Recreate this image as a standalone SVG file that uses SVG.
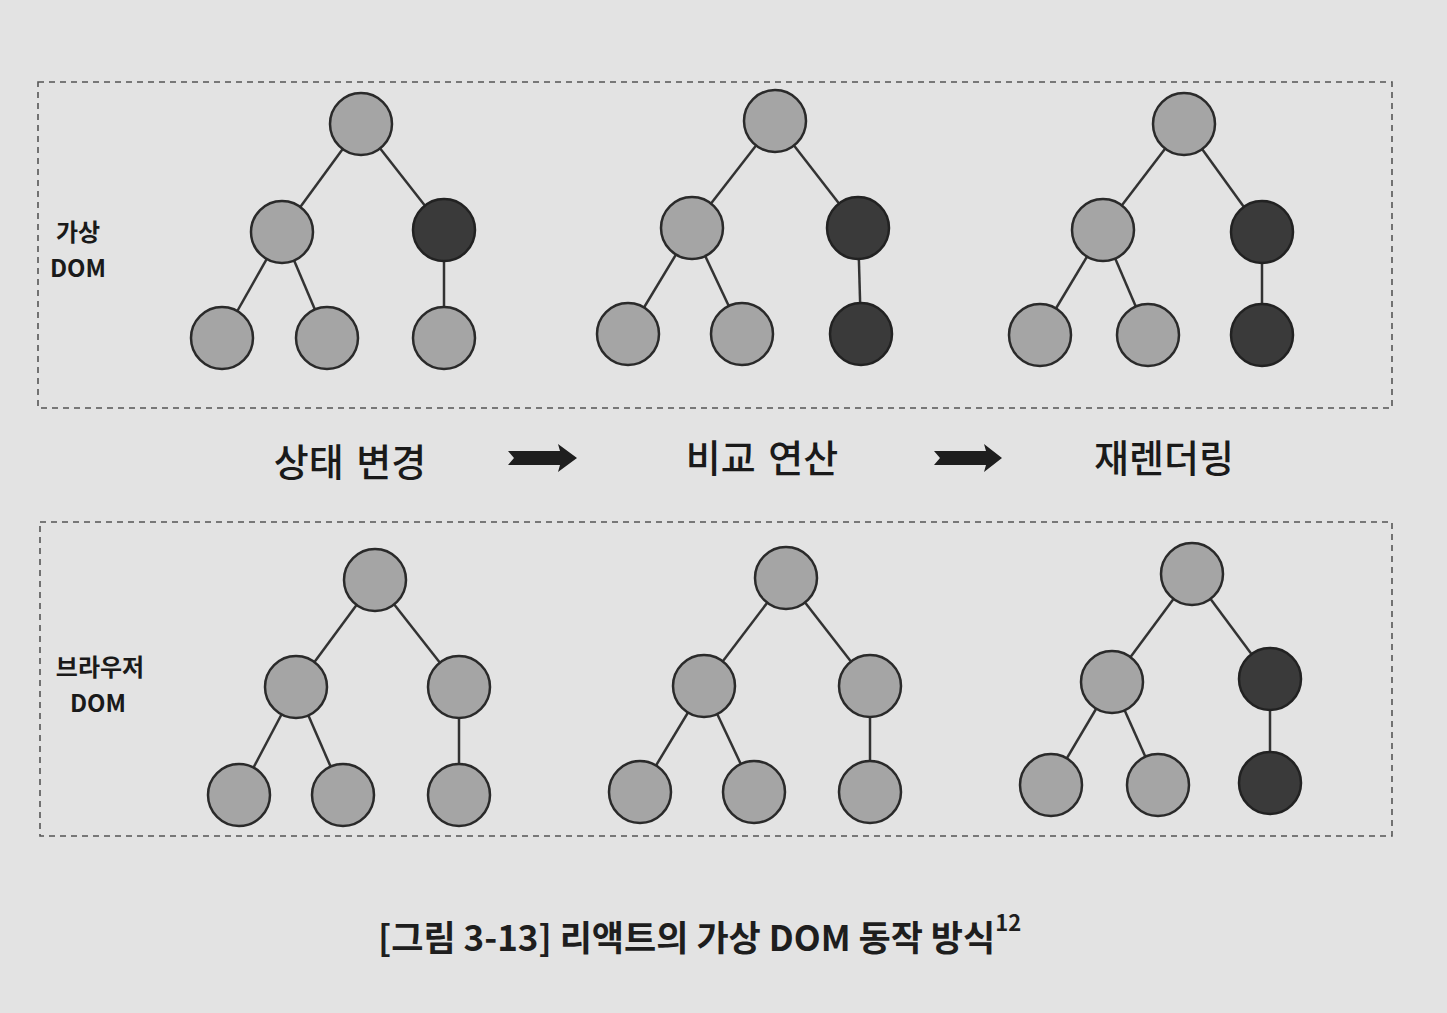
<svg xmlns="http://www.w3.org/2000/svg" width="1447" height="1013" viewBox="0 0 1447 1013">
<style>
.bg{fill:#e3e3e3}
.panel{fill:none;stroke:#555;stroke-width:1.6;stroke-dasharray:6 5}
.n{fill:#a5a5a5;stroke:#2a2a2a;stroke-width:2.5}
.d{fill:#3a3a3a;stroke:#222;stroke-width:2.5}
.e{stroke:#333;stroke-width:2.5}
.lbl{font-family:"Noto Sans CJK KR","Noto Sans",sans-serif;font-weight:700;fill:#1a1a1a;font-size:24px;text-anchor:middle}
.step{font-family:"Noto Sans CJK KR","Noto Sans",sans-serif;font-weight:500;fill:#1a1a1a;font-size:38px;text-anchor:middle;word-spacing:4px}
.cap{font-family:"Noto Sans CJK KR","Noto Sans",sans-serif;font-weight:600;fill:#1e1e1e;font-size:35px}
.arr{fill:#1e1e1e}
</style>
<rect class="bg" x="0" y="0" width="1447" height="1013"/>
<g id="panel-virtual"><rect class="panel" x="38" y="82" width="1354" height="326"/></g>
<g id="panel-browser"><rect class="panel" x="40" y="522" width="1352" height="314"/></g>

<g id="connectors">
<line class="e" x1="361" y1="124" x2="282" y2="232"/><line class="e" x1="361" y1="124" x2="444" y2="230"/>
<line class="e" x1="282" y1="232" x2="222" y2="338"/><line class="e" x1="282" y1="232" x2="327" y2="338"/>
<line class="e" x1="444" y1="230" x2="444" y2="338"/>
<line class="e" x1="775" y1="121" x2="692" y2="228"/><line class="e" x1="775" y1="121" x2="858" y2="228"/>
<line class="e" x1="692" y1="228" x2="628" y2="334"/><line class="e" x1="692" y1="228" x2="742" y2="334"/>
<line class="e" x1="858" y1="228" x2="861" y2="334"/>
<line class="e" x1="1184" y1="124" x2="1103" y2="230"/><line class="e" x1="1184" y1="124" x2="1262" y2="232"/>
<line class="e" x1="1103" y1="230" x2="1040" y2="335"/><line class="e" x1="1103" y1="230" x2="1148" y2="335"/>
<line class="e" x1="1262" y1="232" x2="1262" y2="335"/>
<line class="e" x1="375" y1="580" x2="296" y2="687"/><line class="e" x1="375" y1="580" x2="459" y2="687"/>
<line class="e" x1="296" y1="687" x2="239" y2="795"/><line class="e" x1="296" y1="687" x2="343" y2="795"/>
<line class="e" x1="459" y1="687" x2="459" y2="795"/>
<line class="e" x1="786" y1="578" x2="704" y2="686"/><line class="e" x1="786" y1="578" x2="870" y2="686"/>
<line class="e" x1="704" y1="686" x2="640" y2="792"/><line class="e" x1="704" y1="686" x2="754" y2="792"/>
<line class="e" x1="870" y1="686" x2="870" y2="792"/>
<line class="e" x1="1192" y1="574" x2="1112" y2="682"/><line class="e" x1="1192" y1="574" x2="1270" y2="679"/>
<line class="e" x1="1112" y1="682" x2="1051" y2="785"/><line class="e" x1="1112" y1="682" x2="1158" y2="785"/>
<line class="e" x1="1270" y1="679" x2="1270" y2="783"/>
<path class="arr" d="M508,451 L560,451 L558,444 L577,458 L558,472 L560,465 L508,465 L514,458 Z"/>
<path class="arr" d="M934,451 L986,451 L984,444 L1002,458 L984,472 L986,465 L934,465 L940,458 Z"/>
</g>

<g id="vtree1">
<circle class="n" cx="361" cy="124" r="31"/><circle class="n" cx="282" cy="232" r="31"/><circle class="d" cx="444" cy="230" r="31"/>
<circle class="n" cx="222" cy="338" r="31"/><circle class="n" cx="327" cy="338" r="31"/><circle class="n" cx="444" cy="338" r="31"/>
</g>
<g id="vtree2">
<circle class="n" cx="775" cy="121" r="31"/><circle class="n" cx="692" cy="228" r="31"/><circle class="d" cx="858" cy="228" r="31"/>
<circle class="n" cx="628" cy="334" r="31"/><circle class="n" cx="742" cy="334" r="31"/><circle class="d" cx="861" cy="334" r="31"/>
</g>
<g id="vtree3">
<circle class="n" cx="1184" cy="124" r="31"/><circle class="n" cx="1103" cy="230" r="31"/><circle class="d" cx="1262" cy="232" r="31"/>
<circle class="n" cx="1040" cy="335" r="31"/><circle class="n" cx="1148" cy="335" r="31"/><circle class="d" cx="1262" cy="335" r="31"/>
</g>
<g id="btree1">
<circle class="n" cx="375" cy="580" r="31"/><circle class="n" cx="296" cy="687" r="31"/><circle class="n" cx="459" cy="687" r="31"/>
<circle class="n" cx="239" cy="795" r="31"/><circle class="n" cx="343" cy="795" r="31"/><circle class="n" cx="459" cy="795" r="31"/>
</g>
<g id="btree2">
<circle class="n" cx="786" cy="578" r="31"/><circle class="n" cx="704" cy="686" r="31"/><circle class="n" cx="870" cy="686" r="31"/>
<circle class="n" cx="640" cy="792" r="31"/><circle class="n" cx="754" cy="792" r="31"/><circle class="n" cx="870" cy="792" r="31"/>
</g>
<g id="btree3">
<circle class="n" cx="1192" cy="574" r="31"/><circle class="n" cx="1112" cy="682" r="31"/><circle class="d" cx="1270" cy="679" r="31"/>
<circle class="n" cx="1051" cy="785" r="31"/><circle class="n" cx="1158" cy="785" r="31"/><circle class="d" cx="1270" cy="783" r="31"/>
</g>

<g id="label-virtual"><text class="lbl" x="78" y="241">가상</text><text class="lbl" x="78" y="277">DOM</text></g>
<g id="label-browser"><text class="lbl" x="100" y="676">브라우저</text><text class="lbl" x="98" y="712">DOM</text></g>

<g id="step1"><text class="step" x="350" y="476">상태 변경</text></g>
<g id="step2"><text class="step" x="762" y="472">비교 연산</text></g>
<g id="step3"><text class="step" x="1164" y="472">재렌더링</text></g>

<g id="caption"><text class="cap" x="378" y="951">[그림 3-13] 리액트의 가상 DOM 동작 방식<tspan font-size="22" dy="-20">12</tspan></text></g>
</svg>
